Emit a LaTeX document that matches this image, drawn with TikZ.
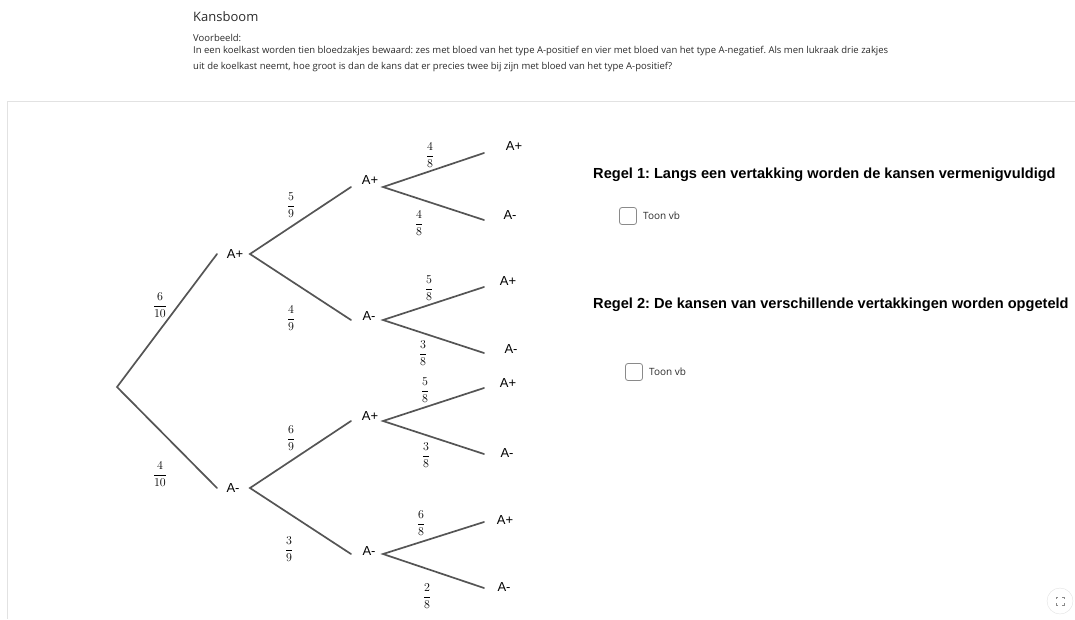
\documentclass[tikz,border=0pt]{standalone}
\usepackage{fontspec}
\setmainfont{Liberation Sans}
\newfontfamily\uifont{Open Sans}
\usepackage{amsmath}
\frenchspacing
\definecolor{branch}{HTML}{555555}
\definecolor{panel}{HTML}{E2E2E2}
\definecolor{txt}{HTML}{2B2B2B}
\definecolor{boxc}{HTML}{8A8A8A}
\tikzset{
  branchline/.style={draw=branch, line width=1.7pt, line cap=round},
  lbl/.style={inner sep=0pt, font=\fontsize{13}{15}\selectfont, text=black},
  frac/.style={inner sep=0pt, font=\fontsize{12}{13}\selectfont},
  rule/.style={inner sep=0pt, anchor=west, font=\fontsize{14.6}{16}\selectfont\bfseries},
  tbox/.style={draw=boxc, line width=0.8pt, rounded corners=2.5pt, minimum width=17pt, minimum height=17pt, inner sep=0pt},
  toon/.style={inner sep=0pt, anchor=west, font=\uifont\fontsize{10}{12}\selectfont, text=txt},
  head/.style={inner sep=0pt, anchor=west, text=txt}
}
\begin{document}
\begin{tikzpicture}[x=1pt, y=-1pt]
\useasboundingbox (0,0) rectangle (1075,619);
% header
\node[head, font=\uifont\fontsize{13}{15}\selectfont] (title) at (193,17) {Kansboom};
\node[head, font=\uifont\fontsize{9.5}{11}\selectfont] (vb) at (193,38) {Voorbeeld:};
\node[head, font=\uifont\fontsize{9.5}{11}\selectfont] (l1) at (193,51) {In een koelkast worden tien bloedzakjes bewaard: zes met bloed van het type A-positief en vier met bloed van het type A-negatief. Als men lukraak drie zakjes};
\node[head, font=\uifont\fontsize{9.5}{11}\selectfont] (l2) at (193,67) {uit de koelkast neemt, hoe groot is dan de kans dat er precies twee bij zijn met bloed van het type A-positief?};
% panel
\draw[panel, line width=1pt] (1075,101.5) -- (7.5,101.5) -- (7.5,619);
% tree points
\coordinate (r) at (117,387);
\coordinate (aIn) at (217,254); \node[lbl] (a) at (235,254) {A+}; \coordinate (aOut) at (250,254);
\coordinate (bIn) at (217,488); \node[lbl] (b) at (233,488) {A-}; \coordinate (bOut) at (250,488);
\coordinate (aaIn) at (351,187); \node[lbl] (aa) at (370,180) {A+}; \coordinate (aaOut) at (383,187);
\coordinate (abIn) at (351,320); \node[lbl] (ab) at (369,316) {A-}; \coordinate (abOut) at (383,320);
\coordinate (baIn) at (351,421); \node[lbl] (ba) at (370,416) {A+}; \coordinate (baOut) at (383,421);
\coordinate (bbIn) at (351,554); \node[lbl] (bb) at (369,551) {A-}; \coordinate (bbOut) at (383,554);
\coordinate (aaaIn) at (484,153); \node[lbl] (aaa) at (514,146) {A+};
\coordinate (aabIn) at (484,220); \node[lbl] (aab) at (510,215) {A-};
\coordinate (abaIn) at (484,287); \node[lbl] (aba) at (508,281) {A+};
\coordinate (abbIn) at (484,353); \node[lbl] (abb) at (511,349) {A-};
\coordinate (baaIn) at (484,388); \node[lbl] (baa) at (508,383) {A+};
\coordinate (babIn) at (484,454); \node[lbl] (bab) at (507,453) {A-};
\coordinate (bbaIn) at (484,522); \node[lbl] (bba) at (505,520) {A+};
\coordinate (bbbIn) at (484,588); \node[lbl] (bbb) at (504,587) {A-};
% branches
\draw[branchline] (aIn) -- (r) -- (bIn);
\draw[branchline] (aaIn) -- (aOut) -- (abIn);
\draw[branchline] (baIn) -- (bOut) -- (bbIn);
\draw[branchline] (aaaIn) -- (aaOut) -- (aabIn);
\draw[branchline] (abaIn) -- (abOut) -- (abbIn);
\draw[branchline] (baaIn) -- (baOut) -- (babIn);
\draw[branchline] (bbaIn) -- (bbOut) -- (bbbIn);
% fractions
\node[frac] (f1) at (160,305) {$\dfrac{6}{10}$};
\node[frac] (f2) at (160,474) {$\dfrac{4}{10}$};
\node[frac] (f3) at (291,205) {$\dfrac{5}{9}$};
\node[frac] (f4) at (291,318) {$\dfrac{4}{9}$};
\node[frac] (f5) at (291,438) {$\dfrac{6}{9}$};
\node[frac] (f6) at (289,549) {$\dfrac{3}{9}$};
\node[frac] (f7) at (430,155) {$\dfrac{4}{8}$};
\node[frac] (f8) at (419,223) {$\dfrac{4}{8}$};
\node[frac] (f9) at (429,288) {$\dfrac{5}{8}$};
\node[frac] (f10) at (423,353) {$\dfrac{3}{8}$};
\node[frac] (f11) at (425,390) {$\dfrac{5}{8}$};
\node[frac] (f12) at (426,455) {$\dfrac{3}{8}$};
\node[frac] (f13) at (421,523) {$\dfrac{6}{8}$};
\node[frac] (f14) at (427,596) {$\dfrac{2}{8}$};
% rules
\node[rule] (r1) at (593,175) {Regel 1: Langs een vertakking worden de kansen vermenigvuldigd};
\node[rule] (r2) at (593,305) {Regel 2: De kansen van verschillende vertakkingen worden opgeteld};
\node[tbox] (cb1) at (628,216) {};
\node[toon] (t1) at (643,216) {Toon vb};
\node[tbox] (cb2) at (634,372) {};
\node[toon] (t2) at (649,372) {Toon vb};
% fullscreen button
\node[circle, draw=panel, fill=white, minimum size=26pt, inner sep=0pt] (fs) at (1060,601) {};
\draw[boxc, line width=0.8pt] (1056,599) -- (1056,597) -- (1058,597)
  (1062,597) -- (1064,597) -- (1064,599)
  (1064,603) -- (1064,605) -- (1062,605)
  (1058,605) -- (1056,605) -- (1056,603);
\end{tikzpicture}
\end{document}
